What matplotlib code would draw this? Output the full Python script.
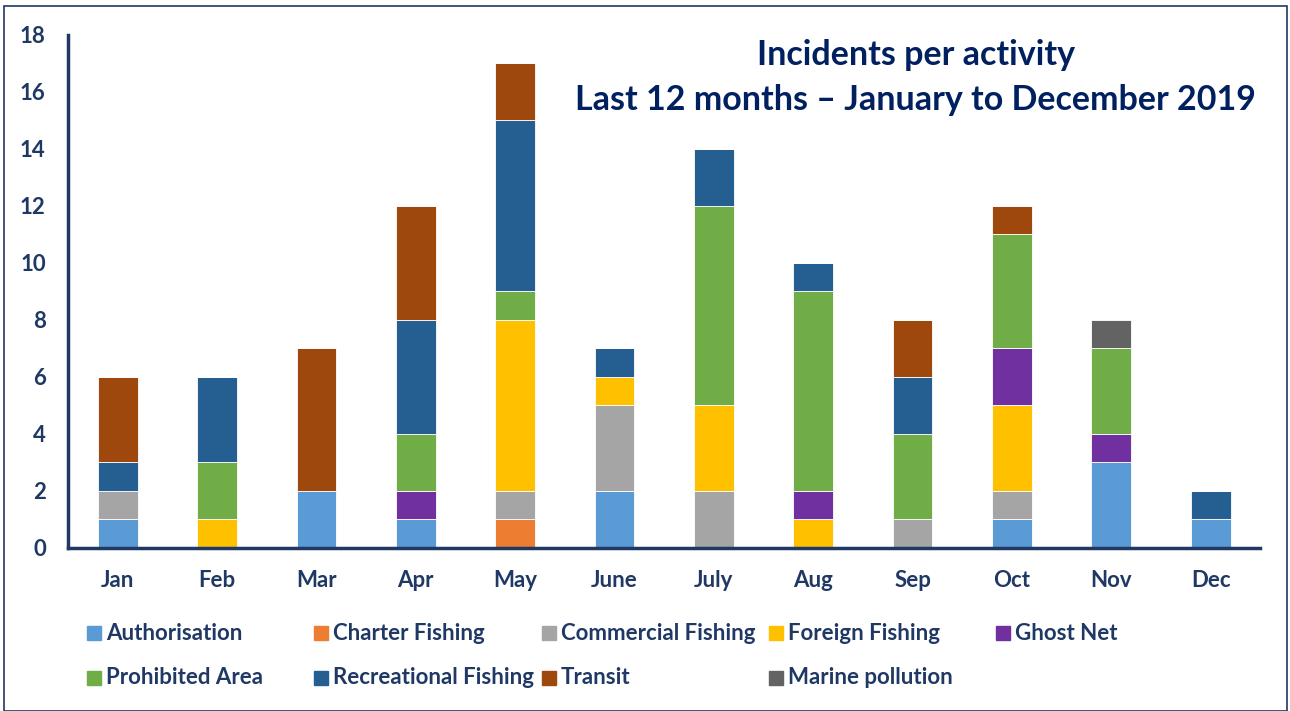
import numpy as np
import matplotlib
matplotlib.use("Agg")
import matplotlib.pyplot as plt
from matplotlib.patches import Rectangle

months = ["Jan", "Feb", "Mar", "Apr", "May", "June", "July", "Aug", "Sep", "Oct", "Nov", "Dec"]

authorisation = [1, 0, 2, 1, 0, 2, 0, 0, 0, 1, 3, 1]
charter_fishing = [0, 0, 0, 0, 1, 0, 0, 0, 0, 0, 0, 0]
commercial_fishing = [1, 0, 0, 0, 1, 3, 2, 0, 1, 1, 0, 0]
foreign_fishing = [0, 1, 0, 0, 6, 1, 3, 1, 0, 3, 0, 0]
ghost_net = [0, 0, 0, 1, 0, 0, 0, 1, 0, 2, 1, 0]
prohibited_area = [0, 2, 0, 2, 1, 0, 7, 7, 3, 4, 3, 0]
recreational_fishing = [1, 3, 0, 4, 6, 1, 2, 1, 2, 0, 0, 1]
transit = [3, 0, 5, 4, 2, 0, 0, 0, 2, 1, 0, 0]
marine_pollution = [0, 0, 0, 0, 0, 0, 0, 0, 0, 0, 1, 0]

series = [
    ("Authorisation", authorisation, "#5B9BD5"),
    ("Charter Fishing", charter_fishing, "#ED7D31"),
    ("Commercial Fishing", commercial_fishing, "#A5A5A5"),
    ("Foreign Fishing", foreign_fishing, "#FFC000"),
    ("Ghost Net", ghost_net, "#7030A0"),
    ("Prohibited Area", prohibited_area, "#70AD47"),
    ("Recreational Fishing", recreational_fishing, "#255E91"),
    ("Transit", transit, "#9E480E"),
    ("Marine pollution", marine_pollution, "#636363"),
]

NAVY = "#1F3864"
TITLE = "#002060"
FONT = ["Lato", "DejaVu Sans"]
plt.rcParams["font.family"] = FONT
plt.rcParams["font.weight"] = "bold"

fig = plt.figure(figsize=(12.9, 7.11), dpi=100)
ax = fig.add_axes([0.0527, 0.2293, 0.9243, 0.7215])

x = np.arange(len(months))
bottom = np.zeros(len(months))
for name, vals, col in series:
    vals = np.array(vals, dtype=float)
    ax.bar(x, vals, 0.4, bottom=bottom, color=col, edgecolor="white",
           linewidth=0.6, label=name)
    bottom += vals

ax.set_xlim(-0.5, len(months) - 0.5)
ax.set_ylim(0, 18)
ax.set_yticks(range(0, 19, 2))
ax.set_xticks(x)
ax.set_xticklabels(months)
for s in ("top", "right"):
    ax.spines[s].set_visible(False)
for s in ("left", "bottom"):
    ax.spines[s].set_color(NAVY)
    ax.spines[s].set_linewidth(2.5)
ax.tick_params(axis="y", length=0, pad=16, labelsize=16, labelcolor=NAVY)
ax.tick_params(axis="x", length=0, pad=16, labelsize=16, labelcolor=NAVY)
for lab in ax.get_xticklabels() + ax.get_yticklabels():
    lab.set_fontweight("bold")

fig.text(0.710, 0.923, "Incidents per activity", ha="center", va="center",
         fontsize=24.5, fontweight="bold", color=TITLE)
fig.text(0.710, 0.859, "Last 12 months \u2013 January to December 2019", ha="center",
         va="center", fontsize=24.5, fontweight="bold", color=TITLE)

# legend laid out in two rows, fixed column pitch
W, H = 1290, 711
col_x = [87, 314, 542, 769, 996]
row_y = [633, 678]
for i, (name, vals, col) in enumerate(series):
    r, c = divmod(i, 5)
    px, py = col_x[c], row_y[r]
    fig.patches.append(Rectangle((px / W, 1 - (py + 7) / H), 14 / W, 14 / H,
                                 transform=fig.transFigure, color=col))
    fig.text((px + 19) / W, 1 - py / H, name, ha="left", va="center",
             fontsize=16, fontweight="bold", color=NAVY)

# figure frame
fig.patches.append(Rectangle((4 / W, 0), 1283 / W, 1 - 6 / H, transform=fig.transFigure,
                             fill=False, edgecolor=NAVY, linewidth=1.2))

fig.savefig("out.png", dpi=100)
